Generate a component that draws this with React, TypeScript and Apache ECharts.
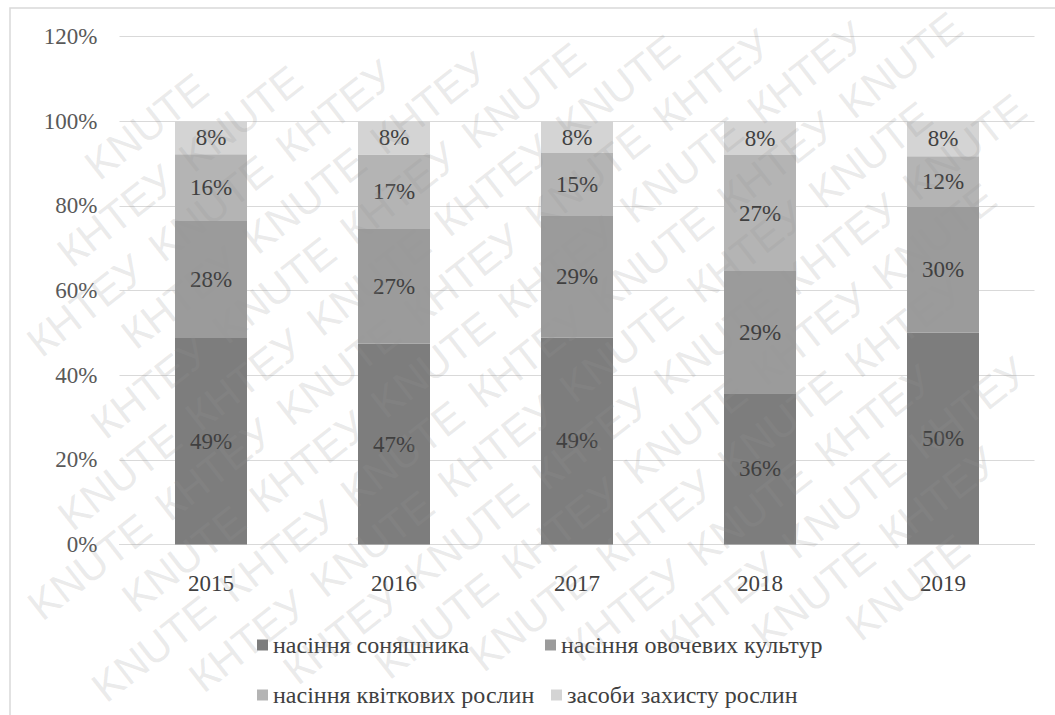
import React, { useEffect, useRef } from "react";
import * as echarts from "echarts";

const years = ["2015", "2016", "2017", "2018", "2019"];
const seriesNames = [
  "насіння соняшника",
  "насіння овочевих культур",
  "насіння квіткових рослин",
  "засоби захисту рослин",
];
const sunflower = [48.8, 47.4, 48.9, 35.7, 50.1];
const vegetables = [27.8, 27.3, 28.9, 28.9, 29.6];
const flowers = [15.6, 17.4, 14.7, 27.4, 12.0];
const protection = [7.8, 7.9, 7.5, 8.0, 8.3];
const yTicks = [0, 20, 40, 60, 80, 100, 120];
const watermarkWords = ["КНТЕУ", "KNUTE"];

const colors = ["#7d7d7d", "#9b9b9b", "#b4b4b4", "#d4d4d4"];
const FONT = "Liberation Serif";

function buildWatermark() {
  const W = 1055, H = 715;
  const theta = (38 * Math.PI) / 180;
  const c = Math.cos(theta), s = Math.sin(theta);
  const cx = 527, cy = 357;
  const step = 158, lineGap = 52;
  const ww = 146, wh = 30;
  const hw = (ww / 2) * c + (wh / 2) * s;
  const hh = (ww / 2) * s + (wh / 2) * c;
  const out: any[] = [];
  for (let k = -16; k <= 16; k++) {
    for (let j = -10; j <= 10; j++) {
      const u = j * step + (((k * step) / 2) % step);
      const v = k * lineGap;
      const x = cx + u * c + v * s;
      const y = cy - u * s + v * c;
      if (x - hw < 0 || x + hw > W || y - hh < 0 || y + hh > H) continue;
      out.push({
        type: "text",
        x,
        y,
        rotation: theta,
        z: 100,
        silent: true,
        style: {
          text: watermarkWords[(((j + k) % 2) + 2) % 2],
          fill: "rgba(150,150,150,0.2)",
          font: "42px Liberation Sans",
          align: "center",
          verticalAlign: "middle",
        },
      });
    }
  }
  return out;
}

export default function App() {
  const ref = useRef<HTMLDivElement>(null);
  useEffect(() => {
    if (!ref.current) return;
    const chart = echarts.init(ref.current, undefined, { renderer: "svg" });
    const dataSets = [sunflower, vegetables, flowers, protection];
    const legendPos = [
      { left: 257, top: 633 },
      { left: 545, top: 633 },
      { left: 257, top: 683 },
      { left: 551, top: 683 },
    ];
    chart.setOption({
      animation: false,
      backgroundColor: "#ffffff",
      textStyle: { fontFamily: FONT },
      grid: { left: 119.5, right: 20.5, top: 36.5, bottom: 170.5 },
      xAxis: {
        type: "category",
        data: years,
        axisLine: { lineStyle: { color: "#d9d9d9", width: 1 } },
        axisTick: { show: false },
        axisLabel: { color: "#404040", fontFamily: FONT, fontSize: 23, margin: 27 },
      },
      yAxis: {
        type: "value",
        min: yTicks[0],
        max: yTicks[yTicks.length - 1],
        interval: 20,
        axisLine: { show: false },
        axisTick: { show: false },
        splitLine: { lineStyle: { color: "#d9d9d9", width: 1 } },
        axisLabel: {
          color: "#595959",
          fontFamily: FONT,
          fontSize: 23,
          margin: 22,
          formatter: "{value}%",
        },
      },
      legend: legendPos.map((p, i) => ({
        data: [seriesNames[i]],
        left: p.left,
        top: p.top,
        padding: 0,
        icon: "rect",
        itemWidth: 11,
        itemHeight: 11,
        selectedMode: false,
        textStyle: { color: "#404040", fontFamily: FONT, fontSize: 24 },
      })),
      series: seriesNames.map((name, i) => ({
        name,
        type: "bar",
        stack: "total",
        barWidth: 72,
        data: dataSets[i],
        itemStyle: { color: colors[i] },
        label: {
          show: true,
          position: "inside",
          color: "#404040",
          fontFamily: FONT,
          fontSize: 23,
          formatter: (p: any) => Math.round(p.value) + "%",
        },
      })),
      graphic: [
        {
          type: "rect",
          z: 90,
          silent: true,
          shape: { x: 10, y: 8, width: 1200, height: 900 },
          style: { fill: "none", stroke: "#d9d9d9", lineWidth: 1.5 },
        },
        ...buildWatermark(),
      ],
    });
    return () => chart.dispose();
  }, []);
  return (
    <div
      ref={ref}
      style={{ position: "absolute", left: 0, top: 0, width: 1055, height: 715 }}
    />
  );
}
